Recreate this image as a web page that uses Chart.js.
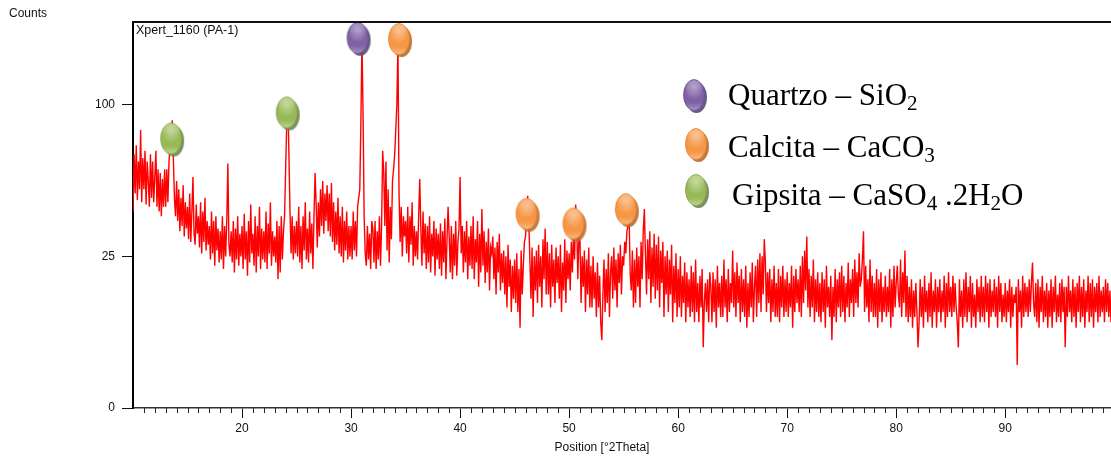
<!DOCTYPE html>
<html>
<head>
<meta charset="utf-8">
<script src="https://cdn.jsdelivr.net/npm/chart.js@4.4.1/dist/chart.umd.min.js"></script>
<style>
  html, body { margin: 0; padding: 0; background: #fff; overflow: hidden; }
  #wrap { position: relative; width: 1111px; height: 459px; }
  #chart { position: absolute; left: 0; top: 0; }
  .lg-text { position: absolute; font-family: "Liberation Serif", "Times New Roman", serif; font-size: 31px; line-height: 31px; color: #000; white-space: nowrap; }
  .lg-text sub { font-size: 0.68em; vertical-align: -5px; line-height: 0; }
  .lg-mk { position: absolute; width: 30px; height: 40px; }
</style>
</head>
<body>
<div id="wrap">
  <canvas id="chart" width="1111" height="459"></canvas>
</div>
<script>
// ---------------- DATA ----------------
const twoThetaStart = 10.0;   // first point, °2Theta
const twoThetaStep = 0.1;     // step, °2Theta
const counts = [
  42, 70, 50, 75, 47, 66, 52, 84, 46, 68,
  52, 72, 45, 66, 56, 44, 70, 48, 66, 46,
  58, 72, 44, 62, 42, 60, 40, 57, 44, 62,
  44, 62, 46, 66, 74, 80, 90, 68, 48, 40,
  56, 38, 52, 34, 48, 36, 54, 32, 46, 35,
  44, 31, 50, 30, 42, 58, 33, 29, 45, 33,
  40, 28, 46, 26, 42, 30, 48, 27, 38, 29,
  36, 24, 42, 26, 38, 22, 40, 27, 35, 23,
  34, 24, 40, 21, 36, 25, 38, 65, 29, 25,
  34, 23, 38, 20, 35, 24, 40, 22, 33, 25,
  36, 21, 41, 24, 34, 19, 38, 23, 45, 26,
  33, 22, 40, 20, 36, 25, 44, 21, 35, 24,
  34, 23, 42, 21, 37, 26, 46, 22, 34, 25,
  32, 23, 38, 18, 36, 20, 40, 24, 34, 40,
  62, 88, 105, 70, 42, 26, 40, 24, 36, 26,
  38, 25, 44, 23, 36, 21, 40, 27, 46, 24,
  35, 23, 42, 26, 37, 21, 40, 60, 45, 28,
  46, 32, 52, 36, 56, 33, 50, 38, 54, 34,
  50, 32, 55, 30, 46, 27, 42, 29, 48, 26,
  40, 25, 44, 23, 38, 27, 42, 24, 36, 25,
  36, 24, 42, 27, 38, 25, 44, 48, 52, 88,
  147, 95, 40, 26, 22, 36, 24, 33, 21, 38,
  35, 23, 38, 21, 34, 24, 40, 22, 36, 72,
  60, 36, 66, 27, 52, 23, 44, 31, 56, 62,
  70, 84, 100, 145, 50, 30, 44, 25, 40, 32,
  38, 26, 44, 23, 40, 29, 46, 22, 36, 25,
  34, 24, 40, 57, 35, 22, 42, 26, 37, 21,
  36, 23, 40, 20, 33, 25, 38, 19, 35, 24,
  33, 21, 37, 19, 34, 23, 39, 18, 31, 44,
  32, 20, 36, 18, 33, 22, 38, 19, 30, 35,
  58, 26, 36, 20, 34, 23, 38, 18, 32, 22,
  36, 21, 40, 18, 31, 23, 38, 16, 33, 20,
  43, 22, 34, 17, 30, 20, 35, 15, 28, 26,
  32, 18, 28, 14, 30, 20, 33, 15, 26, 17,
  27, 14, 25, 11, 29, 16, 24, 10, 22, 13,
  24, 12, 26, 10, 21, 7, 27, 14, 22, 30,
  32, 40, 49, 38, 24, 13, 28, 9, 25, 15,
  27, 12, 29, 16, 25, 11, 31, 18, 35, 14,
  30, 14, 26, 11, 29, 16, 24, 12, 28, 17,
  25, 13, 29, 10, 23, 15, 31, 12, 27, 18,
  26, 15, 30, 20, 33, 24, 45, 36, 18, 32,
  30, 12, 25, 16, 27, 10, 24, 14, 28, 11,
  22, 11, 25, 13, 20, 9, 23, 11, 19, 8,
  5, 14, 24, 10, 21, 12, 26, 9, 20, 25,
  13, 28, 15, 24, 11, 26, 17, 29, 14, 25,
  22, 30, 26, 34, 36, 40, 20, 15, 27, 11,
  24, 12, 28, 16, 25, 11, 30, 18, 34, 43,
  26, 14, 31, 18, 34, 12, 28, 16, 33, 13,
  29, 15, 32, 11, 27, 17, 30, 9, 25, 14,
  27, 10, 24, 14, 29, 8, 22, 12, 26, 9,
  21, 11, 25, 9, 19, 12, 23, 8, 20, 11,
  18, 9, 22, 10, 20, 8, 24, 10, 17, 8,
  19, 11, 21, 4, 12, 17, 10, 18, 8, 20,
  16, 8, 20, 10, 18, 7, 22, 11, 17, 9,
  19, 9, 24, 11, 18, 8, 21, 10, 17, 12,
  27, 11, 20, 9, 23, 12, 19, 8, 21, 10,
  18, 9, 22, 7, 17, 9, 20, 11, 23, 8,
  16, 22, 9, 24, 12, 26, 10, 25, 14, 31,
  23, 10, 20, 12, 21, 8, 18, 10, 22, 9,
  17, 9, 21, 8, 19, 11, 22, 9, 18, 10,
  20, 9, 17, 11, 22, 7, 19, 10, 21, 12,
  18, 10, 22, 9, 25, 12, 27, 15, 32, 11,
  21, 9, 19, 11, 24, 8, 18, 10, 20, 9,
  17, 8, 20, 10, 18, 7, 22, 11, 16, 9,
  19, 5, 16, 9, 21, 8, 18, 11, 20, 9,
  22, 10, 19, 8, 17, 11, 23, 9, 18, 12,
  21, 9, 24, 12, 20, 11, 26, 16, 18, 24,
  34, 10, 22, 11, 18, 8, 24, 10, 19, 9,
  17, 9, 21, 7, 18, 10, 20, 8, 16, 10,
  19, 9, 16, 10, 21, 7, 18, 9, 22, 11,
  17, 22, 14, 11, 24, 9, 20, 12, 27, 9,
  19, 8, 16, 9, 18, 7, 15, 9, 17, 10,
  4, 8, 18, 9, 16, 7, 19, 10, 15, 8,
  17, 9, 20, 7, 15, 10, 18, 7, 16, 10,
  18, 8, 15, 10, 19, 7, 17, 9, 20, 10,
  16, 9, 19, 10, 17, 11, 8, 4, 18, 9,
  15, 7, 18, 9, 20, 8, 16, 10, 19, 7,
  17, 9, 14, 7, 18, 10, 16, 8, 19, 9,
  16, 8, 19, 10, 17, 7, 18, 9, 15, 10,
  18, 9, 16, 7, 19, 10, 17, 8, 14, 9,
  17, 8, 15, 10, 18, 7, 16, 9, 14, 12,
  16, 2, 18, 10, 15, 7, 19, 9, 17, 10,
  16, 9, 18, 10, 17, 23, 12, 9, 17, 8,
  18, 7, 16, 10, 19, 8, 15, 9, 17, 7,
  15, 9, 18, 7, 16, 10, 19, 8, 14, 9,
  17, 8, 18, 10, 16, 4, 16, 9, 19, 10,
  15, 8, 18, 9, 16, 7, 17, 10, 19, 8,
  16, 9, 18, 7, 15, 10, 19, 8, 17, 9,
  18, 7, 16, 10, 17, 8, 19, 9, 15, 10,
  16, 8, 18, 10, 17, 9, 15, 8
];

// phase markers placed on identified peaks
const markerPhase    = ['Gipsita', 'Gipsita', 'Quartzo', 'Calcita', 'Calcita', 'Calcita', 'Calcita'];
const markerTwoTheta = [13.5, 24.1, 30.6, 34.4, 46.1, 50.4, 55.2];
const markerCounts   = [79, 95, 149, 148, 41, 37, 43];

// legend
const legendPhases   = ['Quartzo', 'Calcita', 'Gipsita'];
const legendFormulas = ['SiO<sub>2</sub>', 'CaCO<sub>3</sub>', 'CaSO<sub>4</sub> .2H<sub>2</sub>O'];

// axes
const xTickValues = [20, 30, 40, 50, 60, 70, 80, 90];
const yTickValues = [0, 25, 100];
const xMin = 10, xMax = 99.7, yMin = 0, yMax = 162;

// ---------------- SQRT SCALE ----------------
class SqrtScale extends Chart.LinearScale {
  static id = 'sqrt';
  static defaults = {};
  _sq(v) { return Math.sqrt(Math.max(0, v)); }
  getPixelForValue(value) {
    const lo = this._sq(this.min), hi = this._sq(this.max);
    return this.getPixelForDecimal((this._sq(value) - lo) / (hi - lo));
  }
  getValueForPixel(pixel) {
    const lo = this._sq(this.min), hi = this._sq(this.max);
    const s = lo + this.getDecimalForPixel(pixel) * (hi - lo);
    return s * s;
  }
}
Chart.register(SqrtScale);

// ---------------- MARKER IMAGES ----------------
const phaseColors = {
  Quartzo: { base: '#7f62a3', light: '#a994c8', dark: '#5a4878', rim: '#6a5190' },
  Calcita: { base: '#f79646', light: '#fbbb86', dark: '#b96d2e', rim: '#e0802f' },
  Gipsita: { base: '#98b957', light: '#c0d792', dark: '#6f8451', rim: '#84a345' }
};
function makeMarker(c) {
  const cv = document.createElement('canvas');
  cv.width = 30; cv.height = 40;
  const g = cv.getContext('2d');
  g.fillStyle = c.dark; g.globalAlpha = 0.9;
  g.beginPath(); g.ellipse(17.5, 22.5, 10.5, 15.5, 0, 0, Math.PI * 2); g.fill();
  g.globalAlpha = 1;
  const gr = g.createLinearGradient(0, 4.5, 0, 35.5);
  gr.addColorStop(0, c.light);
  gr.addColorStop(0.35, c.base);
  gr.addColorStop(0.75, c.base);
  gr.addColorStop(1, c.light);
  g.fillStyle = gr;
  g.beginPath(); g.ellipse(15, 20, 10.5, 15.5, 0, 0, Math.PI * 2); g.fill();
  g.strokeStyle = c.rim; g.lineWidth = 0.8; g.stroke();
  const gl = g.createRadialGradient(15, 13, 1, 15, 15, 10);
  gl.addColorStop(0, 'rgba(255,255,255,0.35)');
  gl.addColorStop(1, 'rgba(255,255,255,0)');
  g.fillStyle = gl;
  g.beginPath(); g.ellipse(15, 15, 8, 9, 0, 0, Math.PI * 2); g.fill();
  return cv;
}
const markerImg = {};
for (const k of Object.keys(phaseColors)) markerImg[k] = makeMarker(phaseColors[k]);

// ---------------- LEGEND (HTML) ----------------
const legendMarkerCenters = [[694, 95], [696, 144], [696, 190]];
const legendTextPos = [[728, 79], [728, 131], [732, 179]];
const wrap = document.getElementById('wrap');
legendPhases.forEach((p, i) => {
  const img = document.createElement('img');
  img.className = 'lg-mk';
  img.src = markerImg[p].toDataURL();
  img.style.left = (legendMarkerCenters[i][0] - 15) + 'px';
  img.style.top = (legendMarkerCenters[i][1] - 20) + 'px';
  wrap.appendChild(img);
  const t = document.createElement('div');
  t.className = 'lg-text';
  t.style.left = legendTextPos[i][0] + 'px';
  t.style.top = legendTextPos[i][1] + 'px';
  t.innerHTML = p + ' \u2013 ' + legendFormulas[i];
  wrap.appendChild(t);
});

// ---------------- CHART ----------------
const pattern = counts.map((c, i) => ({ x: +(twoThetaStart + i * twoThetaStep).toFixed(2), y: c }));
const markers = markerTwoTheta.map((x, i) => ({ x: x, y: markerCounts[i] }));

const framePlugin = {
  id: 'frame',
  afterDraw(chart) {
    const ctx = chart.ctx, xs = chart.scales.x, ca = chart.chartArea;
    ctx.save();
    ctx.strokeStyle = '#111'; ctx.lineWidth = 2;
    ctx.beginPath(); ctx.moveTo(ca.left - 1, ca.top); ctx.lineTo(ca.right, ca.top); ctx.stroke();
    ctx.strokeStyle = '#222'; ctx.lineWidth = 1;
    ctx.beginPath();
    for (let d = Math.ceil(xMin) + 1; d <= Math.floor(xMax); d++) {
      if (d % 10 === 0) continue;
      const px = Math.round(xs.getPixelForValue(d)) + 0.5;
      ctx.moveTo(px, xs.top); ctx.lineTo(px, xs.top + 5);
    }
    ctx.stroke();
    ctx.fillStyle = '#111';
    ctx.textBaseline = 'middle';
    ctx.font = '12px "Liberation Sans", Arial, sans-serif';
    ctx.textAlign = 'left';
    ctx.fillText('Counts', 9, 14);
    ctx.font = '12.5px "Liberation Sans", Arial, sans-serif';
    ctx.fillText('Xpert_1160 (PA-1)', 136, 31);
    ctx.font = '12px "Liberation Sans", Arial, sans-serif';
    ctx.textAlign = 'center';
    ctx.fillText('Position [\u00b02Theta]', 602, 448);
    ctx.restore();
  }
};

new Chart(document.getElementById('chart'), {
  type: 'line',
  data: {
    datasets: [
      {
        type: 'scatter',
        data: markers,
        pointStyle: markerPhase.map(p => markerImg[p]),
        pointRadius: 15,
        showLine: false,
        order: 0,
        clip: false
      },
      {
        data: pattern,
        borderColor: '#ff0000',
        borderWidth: 1.4,
        pointRadius: 0,
        tension: 0,
        fill: false,
        order: 1
      }
    ]
  },
  options: {
    responsive: false,
    animation: false,
    devicePixelRatio: 1,
    layout: { autoPadding: false, padding: { top: 22, left: 0, right: 0, bottom: 0 } },
    plugins: { legend: { display: false }, tooltip: { enabled: false } },
    scales: {
      x: {
        type: 'linear',
        min: xMin, max: xMax,
        afterFit(s) { s.height = 51; },
        afterBuildTicks(s) { s.ticks = xTickValues.map(v => ({ value: v })); },
        grid: { drawOnChartArea: false, drawTicks: true, tickLength: 10, color: '#111', lineWidth: 1 },
        border: { display: true, color: '#333', width: 1.5 },
        ticks: {
          color: '#111', padding: 3, maxRotation: 0, autoSkip: false,
          font: { family: '"Liberation Sans", Arial, sans-serif', size: 12 },
          callback: v => String(v)
        }
      },
      y: {
        type: 'sqrt',
        min: yMin, max: yMax,
        afterFit(s) { s.width = 133; },
        afterBuildTicks(s) { s.ticks = yTickValues.map(v => ({ value: v })); },
        grid: { drawOnChartArea: false, drawTicks: true, tickLength: 11, color: '#111', lineWidth: 1 },
        border: { display: true, color: '#000', width: 2 },
        ticks: {
          color: '#111', padding: 7, autoSkip: false,
          font: { family: '"Liberation Sans", Arial, sans-serif', size: 12 },
          callback: v => String(v)
        }
      }
    }
  },
  plugins: [framePlugin]
});
</script>
</body>
</html>
